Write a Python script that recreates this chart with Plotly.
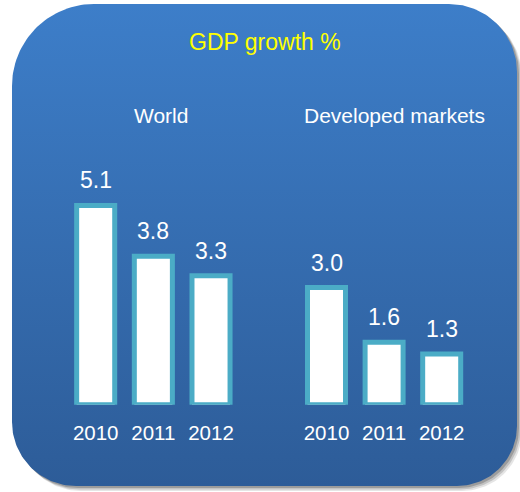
import numpy as np
import plotly.graph_objects as go

# ---- data ----
years = ["2010", "2011", "2012"]
world_growth = [5.1, 3.8, 3.3]
developed_growth = [3.0, 1.6, 1.3]
world_labels = ["5.1", "3.8", "3.3"]
developed_labels = ["3.0", "1.6", "1.3"]
group_names = ["World", "Developed markets"]
title_text = "GDP growth %"

W, H = 520, 492
FONT = "Liberation Sans, Arial, sans-serif"


def rounded_rect(x0, y0, x1, y1, r_tl, r_tr, r_br, r_bl, n=40):
    xs, ys = [], []
    def arc(cx, cy, r, a0, a1):
        t = np.linspace(a0, a1, n)
        xs.extend((cx + r * np.cos(t)).tolist())
        ys.extend((cy + r * np.sin(t)).tolist())
    arc(x0 + r_tl, y0 + r_tl, r_tl, np.pi, 1.5 * np.pi)
    arc(x1 - r_tr, y0 + r_tr, r_tr, 1.5 * np.pi, 2 * np.pi)
    arc(x1 - r_br, y1 - r_br, r_br, 0, 0.5 * np.pi)
    arc(x0 + r_bl, y1 - r_bl, r_bl, 0.5 * np.pi, np.pi)
    xs.append(xs[0]); ys.append(ys[0])
    return xs, ys


fig = go.Figure()

for off, op in [(5, 0.10), (3.5, 0.15), (2, 0.2)]:
    sx, sy = rounded_rect(12 + off, 4 + off, 517 + off, 486 + off, 82, 68, 60, 64)
    fig.add_trace(go.Scatter(x=sx, y=sy, mode="lines", fill="toself",
                             fillcolor=f"rgba(0,0,0,{op})", line=dict(width=0),
                             hoverinfo="skip", showlegend=False,
                             xaxis="x", yaxis="y"))

bx, by = rounded_rect(12, 4, 517, 486, 82, 68, 60, 64)
fig.add_trace(go.Scatter(
    x=bx, y=by, mode="lines", fill="toself", line=dict(width=0),
    fillgradient=dict(type="vertical",
                      colorscale=[[0, "#2D5C98"], [1, "#3D7EC9"]]),
    hoverinfo="skip", showlegend=False, xaxis="x", yaxis="y"))

bar_style = dict(marker=dict(color="white", line=dict(color="#4BACC6", width=5)),
                 hoverinfo="skip", showlegend=False)

fig.add_trace(go.Bar(x=years, y=world_growth, xaxis="x2", yaxis="y2", **bar_style))
fig.add_trace(go.Bar(x=years, y=developed_growth, xaxis="x3", yaxis="y3", **bar_style))

annotations = []
for xa, ya, vals, labs in [("x2", "y2", world_growth, world_labels),
                           ("x3", "y3", developed_growth, developed_labels)]:
    for i, (v, lab) in enumerate(zip(vals, labs)):
        annotations.append(dict(x=i, y=v, xref=xa, yref=ya, text=lab,
                                showarrow=False, xanchor="center",
                                yanchor="bottom", yshift=10,
                                font=dict(color="white", size=23, family=FONT)))

annotations.append(dict(x=265 / W, y=1 - 42 / H, xref="paper", yref="paper",
                        text=title_text, showarrow=False, xanchor="center",
                        yanchor="middle",
                        font=dict(color="#FFFF00", size=23, family=FONT)))
annotations.append(dict(x=160.5 / W, y=1 - 115 / H, xref="paper", yref="paper",
                        text=group_names[0], showarrow=False, xanchor="center",
                        yanchor="middle",
                        font=dict(color="white", size=21, family=FONT)))
annotations.append(dict(x=394.5 / W, y=1 - 115 / H, xref="paper", yref="paper",
                        text=group_names[1], showarrow=False, xanchor="center",
                        yanchor="middle",
                        font=dict(color="white", size=21, family=FONT)))

ydom = [(H - 404.8) / H, (H - 170.2) / H]
common_x = dict(type="category", categoryorder="array", categoryarray=years,
                range=[-0.5, 2.5], showgrid=False, zeroline=False,
                showline=False, ticks="", ticklabelstandoff=14,
                tickfont=dict(color="white", size=20.5, family=FONT),
                fixedrange=True)
common_y = dict(range=[0, 6], showgrid=False, zeroline=False, showline=False,
                showticklabels=False, fixedrange=True, domain=ydom)

fig.update_layout(
    width=W, height=H,
    margin=dict(l=0, r=0, t=0, b=0),
    paper_bgcolor="white", plot_bgcolor="rgba(0,0,0,0)",
    xaxis=dict(domain=[0, 1], range=[0, W], visible=False, fixedrange=True),
    yaxis=dict(domain=[0, 1], range=[H, 0], visible=False, fixedrange=True),
    xaxis2=dict(domain=[66.85 / W, 239.85 / W], anchor="y2", **common_x),
    yaxis2=dict(anchor="x2", **common_y),
    xaxis3=dict(domain=[297.7 / W, 470.5 / W], anchor="y3", **common_x),
    yaxis3=dict(anchor="x3", **common_y),
    annotations=annotations,
    bargap=0.34,
)

fig.write_html("out.html")
